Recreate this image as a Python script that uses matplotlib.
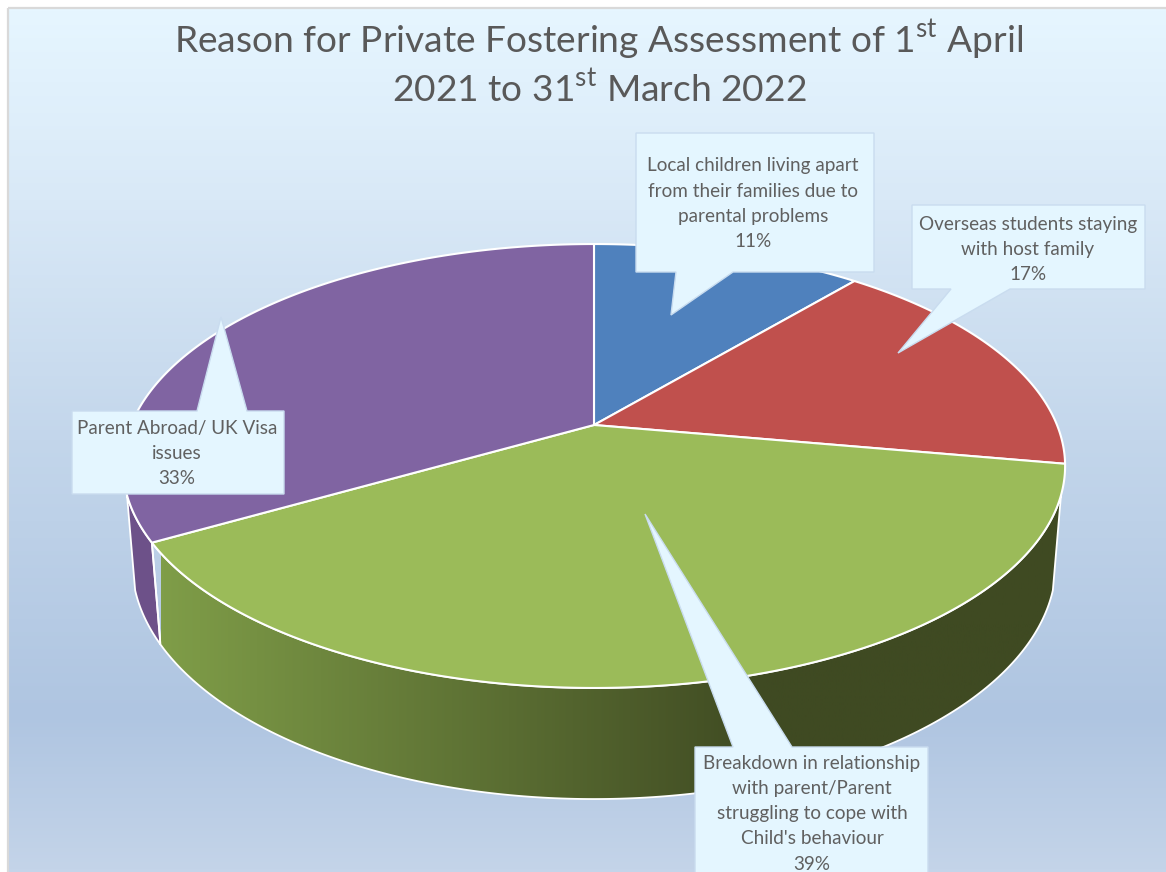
import numpy as np
import matplotlib
matplotlib.use("Agg")
import matplotlib.pyplot as plt
from matplotlib.colors import LinearSegmentedColormap
from matplotlib.patches import Polygon, Rectangle

plt.rcParams["font.family"] = "Lato"
plt.rcParams["mathtext.fontset"] = "custom"
plt.rcParams["mathtext.rm"] = "Lato"

# ---------- data ----------
labels = [
    "Local children living apart\nfrom their families due to\nparental problems",
    "Overseas students staying\nwith host family",
    "Breakdown in relationship\nwith parent/Parent\nstruggling to cope with\nChild's behaviour",
    "Parent Abroad/ UK Visa\nissues",
]
values = [11.1, 16.7, 38.9, 33.3]
top_colors = ["#4f81bd", "#c0504d", "#9bbb59", "#8064a2"]

# ---------- pie geometry (pixels), perspective disc ----------
CX, CY = 594, 425
SX, SY = 463, 214.4
SX2, SY2, CY2 = 454, 228, 519.4
K = 0.1847
# where the rim outline leaves the top and bottom discs, left and right
LEFT_TOP, LEFT_BOTTOM = np.radians(252), np.radians(252.9)
RIGHT_TOP, RIGHT_BOTTOM = np.radians(108), np.radians(107.1)


def disc(theta, sx, sy, cy):
    # theta in radians, clockwise from 12 o'clock
    w = 1 + K * np.cos(theta)
    return CX + sx * np.sin(theta) / w, cy - sy * np.cos(theta) / w


def arc(start, stop, sx, sy, cy):
    t = np.linspace(start, stop, 200)
    x, y = disc(t, sx, sy, cy)
    return np.column_stack([x, y])


fig = plt.figure(figsize=(11.66, 8.72), dpi=100)
ax = fig.add_axes([0, 0, 1, 1])
ax.axis("off")

# ---------- chart area background ----------
bg = LinearSegmentedColormap.from_list(
    "bg",
    [(0.0, "#e6f6ff"), (0.22, "#d9e9f7"), (0.5, "#c3d6eb"),
     (0.82, "#afc5e1"), (1.0, "#c4d4e9")],
)
ax.imshow(np.linspace(0, 1, 256).reshape(-1, 1), cmap=bg, aspect="auto",
          extent=[9, 1166, 872, 9], zorder=0)
ax.add_patch(Rectangle((8, 8), 1170, 880, fill=False, ec="#d9d9d9", lw=1.6, zorder=1))

# ---------- slices ----------
edges = 2 * np.pi * np.cumsum([0] + values) / sum(values)

# purple rim first, it sits behind the green one
rim = np.vstack([arc(edges[3], LEFT_TOP, SX, SY, CY),
                 arc(LEFT_BOTTOM, edges[3], SX2, SY2, CY2)])
ax.add_patch(Polygon(rim, fc="#6d5189", ec="white", lw=1.3, zorder=2))

# green rim, shaded left to right
rim = np.vstack([arc(RIGHT_TOP, edges[3], SX, SY, CY),
                 arc(edges[3], RIGHT_BOTTOM, SX2, SY2, CY2)])
ax.add_patch(Polygon(rim, fc="none", ec="white", lw=1.3, zorder=4))
shade = LinearSegmentedColormap.from_list(
    "shade", [(0.0, "#7f9d48"), (0.66, "#3f4a22"), (1.0, "#3f4a22")])
grad = ax.imshow(np.linspace(0, 1, 512).reshape(1, -1), cmap=shade, aspect="auto",
                 extent=[161, 1070, 810, 440], zorder=3)
grad.set_clip_path(Polygon(rim, transform=ax.transData))

# top faces
for i, color in enumerate(top_colors):
    pts = np.vstack([[CX, CY], arc(edges[i], edges[i + 1], SX, SY, CY)])
    ax.add_patch(Polygon(pts, fc=color, ec="white", lw=1.5, joinstyle="round", zorder=5))

# ---------- callouts: box (x0, y0, x1, y1), pointer (base0, base1, tip), text centre, first line ----------
callouts = [
    ((636, 133, 874, 272), (676, 733, (671, 315)), 753, 166),
    ((912, 205, 1145, 289), (951, 1010, (898, 353)), 1028, 224),
    ((695, 747, 928, 890), (733, 792, (645, 514)), 812, 763),
    ((72, 411, 284, 494), (197, 247, (221, 317)), 177, 428),
]
for (box, (b0, b1, tip), tx, ty), label, value in zip(callouts, labels, values):
    x0, y0, x1, y1 = box
    # pointer leaves through whichever side faces the tip
    if tip[1] > y1:
        pts = [(x0, y0), (x1, y0), (x1, y1), (b1, y1), tip, (b0, y1), (x0, y1)]
    else:
        pts = [(x0, y0), (b0, y0), tip, (b1, y0), (x1, y0), (x1, y1), (x0, y1)]
    ax.add_patch(Polygon(pts, fc="#e4f6ff", ec="#c9dcef", lw=1.0, joinstyle="miter", zorder=6))
    for n, line in enumerate(label.split("\n") + [f"{value:.0f}%"]):
        ax.text(tx, ty + n * 25.3, line, ha="center", va="center", fontsize=13.6,
                color="#606060", zorder=7, clip_on=False)

# ---------- title ----------
ax.text(599, 40, r"Reason for Private Fostering Assessment of 1$^{\mathrm{st}}$ April",
        ha="center", va="center", fontsize=26.7, color="#595959", zorder=7)
ax.text(599, 89, r"2021 to 31$^{\mathrm{st}}$ March 2022",
        ha="center", va="center", fontsize=26.7, color="#595959", zorder=7)

ax.set_xlim(0, 1166)
ax.set_ylim(872, 0)

fig.savefig("out.png", dpi=100)
